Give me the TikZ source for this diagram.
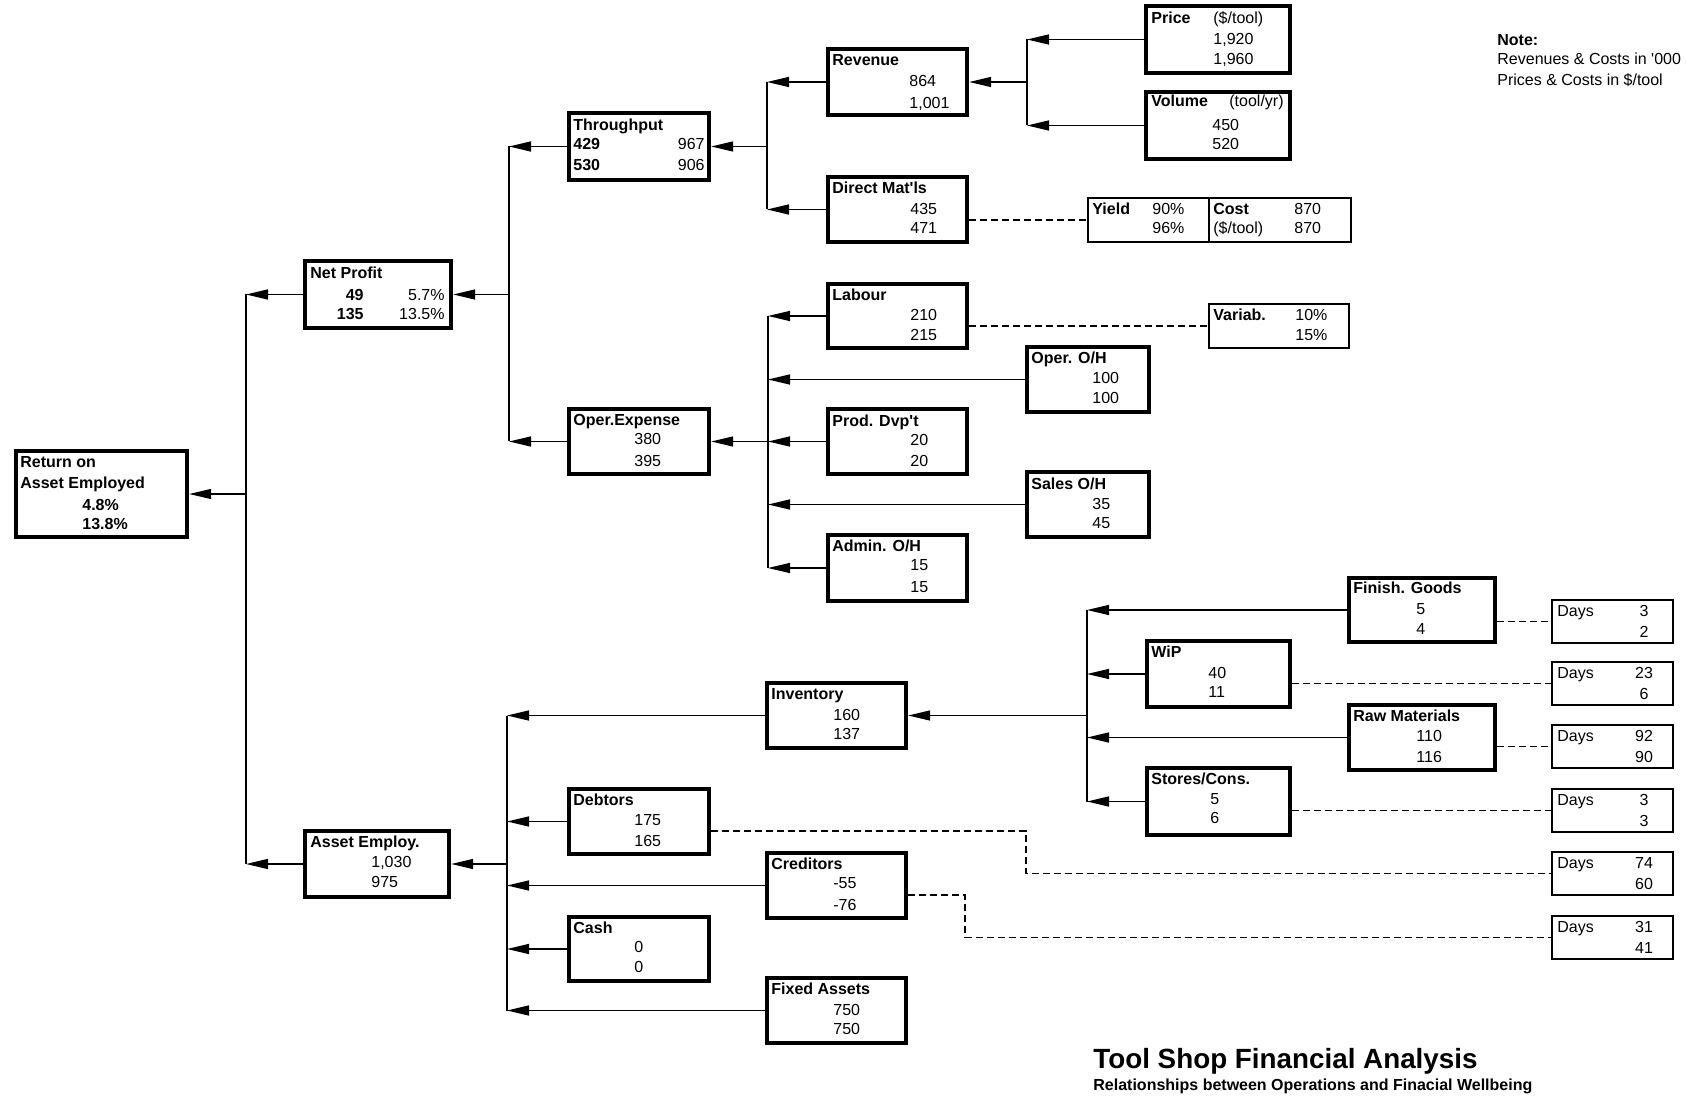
\documentclass[tikz,border=0pt]{standalone}
\usepackage{fontspec}
\setmainfont{Liberation Sans}
\usetikzlibrary{arrows.meta,fit}

\begin{document}
\begin{tikzpicture}[x=0.5pt,y=-0.5pt,
    every node/.style={font=\fontsize{8}{10}\selectfont},
    box/.style={draw,line width=2.2pt,inner sep=0pt},
    infobox/.style={draw,line width=1pt,inner sep=0pt},
    txt/.style={anchor=west,inner sep=0pt,text height=5.8pt,text depth=0pt},
    ttl/.style={txt,font=\fontsize{8}{10}\selectfont\bfseries},
    rtxt/.style={txt,anchor=east},
    link/.style={line width=0.7pt,-{Triangle[length=11pt,width=5pt]}},
    feed/.style={line width=0.7pt},
    dashline/.style={line width=0.7pt,dash pattern=on 3.5pt off 2pt}]
  \fill[white] (0,0) rectangle (1686,1096);
  \useasboundingbox (0,0) rectangle (1686,1096);

  % level 0 and 1
  \node[box,fit={(16,451)(187,537)}] (roa) {};
  \node[ttl] (roa-t) at (20,462) {Return on};
  \node[ttl] (roa-u) at (20,483) {Asset Employed};
  \node[ttl] (roa-a) at (82,505) {4.8\%};
  \node[ttl] (roa-b) at (82,524) {13.8\%};

  \node[box,fit={(305,261)(451,328)}] (np) {};
  \node[ttl] (np-t) at (310,273) {Net Profit};
  \node[ttl,anchor=east] (np-a) at (364,295) {49};
  \node[ttl,anchor=east] (np-b) at (364,314) {135};
  \node[rtxt] (np-c) at (445,295) {5.7\%};
  \node[rtxt] (np-d) at (445,314) {13.5\%};

  \node[box,fit={(305,831)(449,897)}] (ae) {};
  \node[ttl] (ae-t) at (310,842) {Asset Employ.};
  \node[txt] (ae-a) at (371,862) {1,030};
  \node[txt] (ae-b) at (371,882) {975};

  % profit side
  \node[box,fit={(569,113)(709,180)}] (thr) {};
  \node[ttl] (thr-t) at (573,125) {Throughput};
  \node[ttl] (thr-a) at (573,144) {429};
  \node[ttl] (thr-b) at (573,165) {530};
  \node[rtxt] (thr-c) at (705,144) {967};
  \node[rtxt] (thr-d) at (705,165) {906};

  \node[box,fit={(569,409)(709,474)}] (opx) {};
  \node[ttl] (opx-t) at (573,420) {Oper.Expense};
  \node[txt] (opx-a) at (634,439) {380};
  \node[txt] (opx-b) at (634,461) {395};

  \node[box,fit={(828,49)(967,115)}] (rev) {};
  \node[ttl] (rev-t) at (832,60) {Revenue};
  \node[txt] (rev-a) at (909,81) {864};
  \node[txt] (rev-b) at (909,103) {1,001};

  \node[box,fit={(828,177)(967,242)}] (dm) {};
  \node[ttl] (dm-t) at (832,188) {Direct Mat\textquotesingle ls};
  \node[txt] (dm-a) at (910,209) {435};
  \node[txt] (dm-b) at (910,228) {471};

  \node[box,fit={(1146,6)(1290,73)}] (price) {};
  \node[ttl] (price-t) at (1151,18) {Price};
  \node[txt] (price-u) at (1213,18) {(\$/tool)};
  \node[txt] (price-a) at (1213,39) {1,920};
  \node[txt] (price-b) at (1213,59) {1,960};

  \node[box,fit={(1146,92)(1290,159)}] (vol) {};
  \node[ttl] (vol-t) at (1151,101) {Volume};
  \node[txt] (vol-u) at (1229,101) {(tool/yr)};
  \node[txt] (vol-a) at (1212,125) {450};
  \node[txt] (vol-b) at (1212,144) {520};

  \node[infobox,fit={(1088,198)(1209,242)}] (yld) {};
  \node[ttl] (yld-t) at (1092,209) {Yield};
  \node[txt] (yld-a) at (1152,209) {90\%};
  \node[txt] (yld-b) at (1152,228) {96\%};
  \node[infobox,fit={(1209,198)(1351,242)}] (cst) {};
  \node[ttl] (cst-t) at (1213,209) {Cost};
  \node[txt] (cst-u) at (1213,228) {(\$/tool)};
  \node[txt] (cst-a) at (1294,209) {870};
  \node[txt] (cst-b) at (1294,228) {870};

  \node[box,fit={(828,284)(967,348)}] (lab) {};
  \node[ttl] (lab-t) at (832,295) {Labour};
  \node[txt] (lab-a) at (910,315) {210};
  \node[txt] (lab-b) at (910,335) {215};

  \node[infobox,fit={(1209,304)(1349,348)}] (var) {};
  \node[ttl] (var-t) at (1213,315) {Variab.};
  \node[txt] (var-a) at (1295,315) {10\%};
  \node[txt] (var-b) at (1295,335) {15\%};

  \node[box,fit={(1027,347)(1149,412)}] (ooh) {};
  \node[ttl] (ooh-t) at (1031,358) {Oper. O/H};
  \node[txt] (ooh-a) at (1092,378) {100};
  \node[txt] (ooh-b) at (1092,398) {100};

  \node[box,fit={(828,409)(967,474)}] (pdv) {};
  \node[ttl] (pdv-t) at (832,421) {Prod. Dvp\textquotesingle t};
  \node[txt] (pdv-a) at (910,440) {20};
  \node[txt] (pdv-b) at (910,461) {20};

  \node[box,fit={(1027,472)(1149,537)}] (soh) {};
  \node[ttl] (soh-t) at (1031,484) {Sales O/H};
  \node[txt] (soh-a) at (1092,504) {35};
  \node[txt] (soh-b) at (1092,523) {45};

  \node[box,fit={(828,535)(967,601)}] (aoh) {};
  \node[ttl] (aoh-t) at (832,546) {Admin. O/H};
  \node[txt] (aoh-a) at (910,565) {15};
  \node[txt] (aoh-b) at (910,587) {15};

  % asset side
  \node[box,fit={(767,683)(906,748)}] (inv) {};
  \node[ttl] (inv-t) at (771,694) {Inventory};
  \node[txt] (inv-a) at (833,715) {160};
  \node[txt] (inv-b) at (833,734) {137};

  \node[box,fit={(569,789)(709,854)}] (deb) {};
  \node[ttl] (deb-t) at (573,800) {Debtors};
  \node[txt] (deb-a) at (634,820) {175};
  \node[txt] (deb-b) at (634,841) {165};

  \node[box,fit={(767,853)(906,918)}] (cre) {};
  \node[ttl] (cre-t) at (771,864) {Creditors};
  \node[txt] (cre-a) at (833,883) {-55};
  \node[txt] (cre-b) at (833,905) {-76};

  \node[box,fit={(569,917)(709,981)}] (cash) {};
  \node[ttl] (cash-t) at (573,928) {Cash};
  \node[txt] (cash-a) at (634,947) {0};
  \node[txt] (cash-b) at (634,967) {0};

  \node[box,fit={(767,978)(906,1043)}] (fix) {};
  \node[ttl] (fix-t) at (771,989) {Fixed Assets};
  \node[txt] (fix-a) at (833,1010) {750};
  \node[txt] (fix-b) at (833,1029) {750};

  \node[box,fit={(1349,578)(1495,642)}] (fg) {};
  \node[ttl] (fg-t) at (1353,588) {Finish. Goods};
  \node[txt] (fg-a) at (1416,609) {5};
  \node[txt] (fg-b) at (1416,629) {4};

  \node[box,fit={(1147,641)(1290,707)}] (wip) {};
  \node[ttl] (wip-t) at (1151,652) {WiP};
  \node[txt] (wip-a) at (1208,673) {40};
  \node[txt] (wip-b) at (1208,692) {11};

  \node[box,fit={(1349,705)(1495,770)}] (raw) {};
  \node[ttl] (raw-t) at (1353,716) {Raw Materials};
  \node[txt] (raw-a) at (1416,736) {110};
  \node[txt] (raw-b) at (1416,757) {116};

  \node[box,fit={(1147,768)(1290,835)}] (sto) {};
  \node[ttl] (sto-t) at (1151,779) {Stores/Cons.};
  \node[txt] (sto-a) at (1210,799) {5};
  \node[txt] (sto-b) at (1210,818) {6};

  \foreach \t/\a/\b [count=\i] in {600/3/2,662/23/6,725/92/90,789/3/3,852/74/60,916/31/41}{
    \node[infobox,fit={(1552,\t)(1673,\t+43)}] (days\i) {};
    \node[txt] (days\i-t) at (1557,\t+11) {Days};
    \node[txt,anchor=center] (days\i-a) at (1644,\t+11) {\a};
    \node[txt,anchor=center] (days\i-b) at (1644,\t+32) {\b};
  }

  % bars
  \coordinate (roaBar) at (246,0);
  \coordinate (npBar) at (509,0);
  \coordinate (thrBar) at (767,0);
  \coordinate (revBar) at (1027,0);
  \coordinate (opxBar) at (768,0);
  \coordinate (aeBar) at (507,0);
  \coordinate (invBar) at (1087,0);

  \foreach \c in {np,ae} \draw[link] (\c.west) -- (\c.west -| roaBar);
  \draw[feed] (np.west -| roaBar) -- (ae.west -| roaBar);
  \draw[link] (roa.east -| roaBar) -- (roa.east);

  \foreach \c in {thr,opx} \draw[link] (\c.west) -- (\c.west -| npBar);
  \draw[feed] (thr.west -| npBar) -- (opx.west -| npBar);
  \draw[link] (np.east -| npBar) -- (np.east);

  \foreach \c in {rev,dm} \draw[link] (\c.west) -- (\c.west -| thrBar);
  \draw[feed] (rev.west -| thrBar) -- (dm.west -| thrBar);
  \draw[link] (thr.east -| thrBar) -- (thr.east);

  \foreach \c in {price,vol} \draw[link] (\c.west) -- (\c.west -| revBar);
  \draw[feed] (price.west -| revBar) -- (vol.west -| revBar);
  \draw[link] (rev.east -| revBar) -- (rev.east);

  \foreach \c in {lab,ooh,pdv,soh,aoh} \draw[link] (\c.west) -- (\c.west -| opxBar);
  \draw[feed] (lab.west -| opxBar) -- (aoh.west -| opxBar);
  \draw[link] (opx.east -| opxBar) -- (opx.east);

  \foreach \c in {inv,deb,cre,cash,fix} \draw[link] (\c.west) -- (\c.west -| aeBar);
  \draw[feed] (inv.west -| aeBar) -- (fix.west -| aeBar);
  \draw[link] (ae.east -| aeBar) -- (ae.east);

  \foreach \c in {fg,wip,raw,sto} \draw[link] (\c.west) -- (\c.west -| invBar);
  \draw[feed] (fg.west -| invBar) -- (sto.west -| invBar);
  \draw[link] (inv.east -| invBar) -- (inv.east);

  % dashed links to the driver boxes
  \draw[dashline] (dm.east |- yld.west) -- (yld.west);
  \draw[dashline] (lab.east |- var.west) -- (var.west);
  \draw[dashline] (fg.east |- days1.west) -- (days1.west);
  \draw[dashline] (wip.east |- days2.west) -- (days2.west);
  \draw[dashline] (raw.east |- days3.west) -- (days3.west);
  \draw[dashline] (sto.east |- days4.west) -- (days4.west);
  \coordinate (debTurn) at (1026,831);
  \coordinate (creTurn) at (965,895);
  \draw[dashline] (deb.east |- debTurn) -- (debTurn) |- (days5.west);
  \draw[dashline] (cre.east |- creTurn) -- (creTurn) |- (days6.west);

  % note and title
  \node[ttl] (note-t) at (1497,40) {Note:};
  \node[txt] (note-a) at (1497,59) {Revenues \& Costs in \textquotesingle 000};
  \node[txt] (note-b) at (1497,80) {Prices \& Costs in \$/tool};
  \node[anchor=base west,inner sep=0pt,font=\fontsize{13.9}{16}\selectfont\bfseries] (title) at (1093,1068) {Tool Shop Financial Analysis};
  \node[anchor=base west,inner sep=0pt,font=\fontsize{8}{10}\selectfont\bfseries] (subtitle) at (1093,1090) {Relationships between Operations and Finacial Wellbeing};
\end{tikzpicture}
\end{document}
